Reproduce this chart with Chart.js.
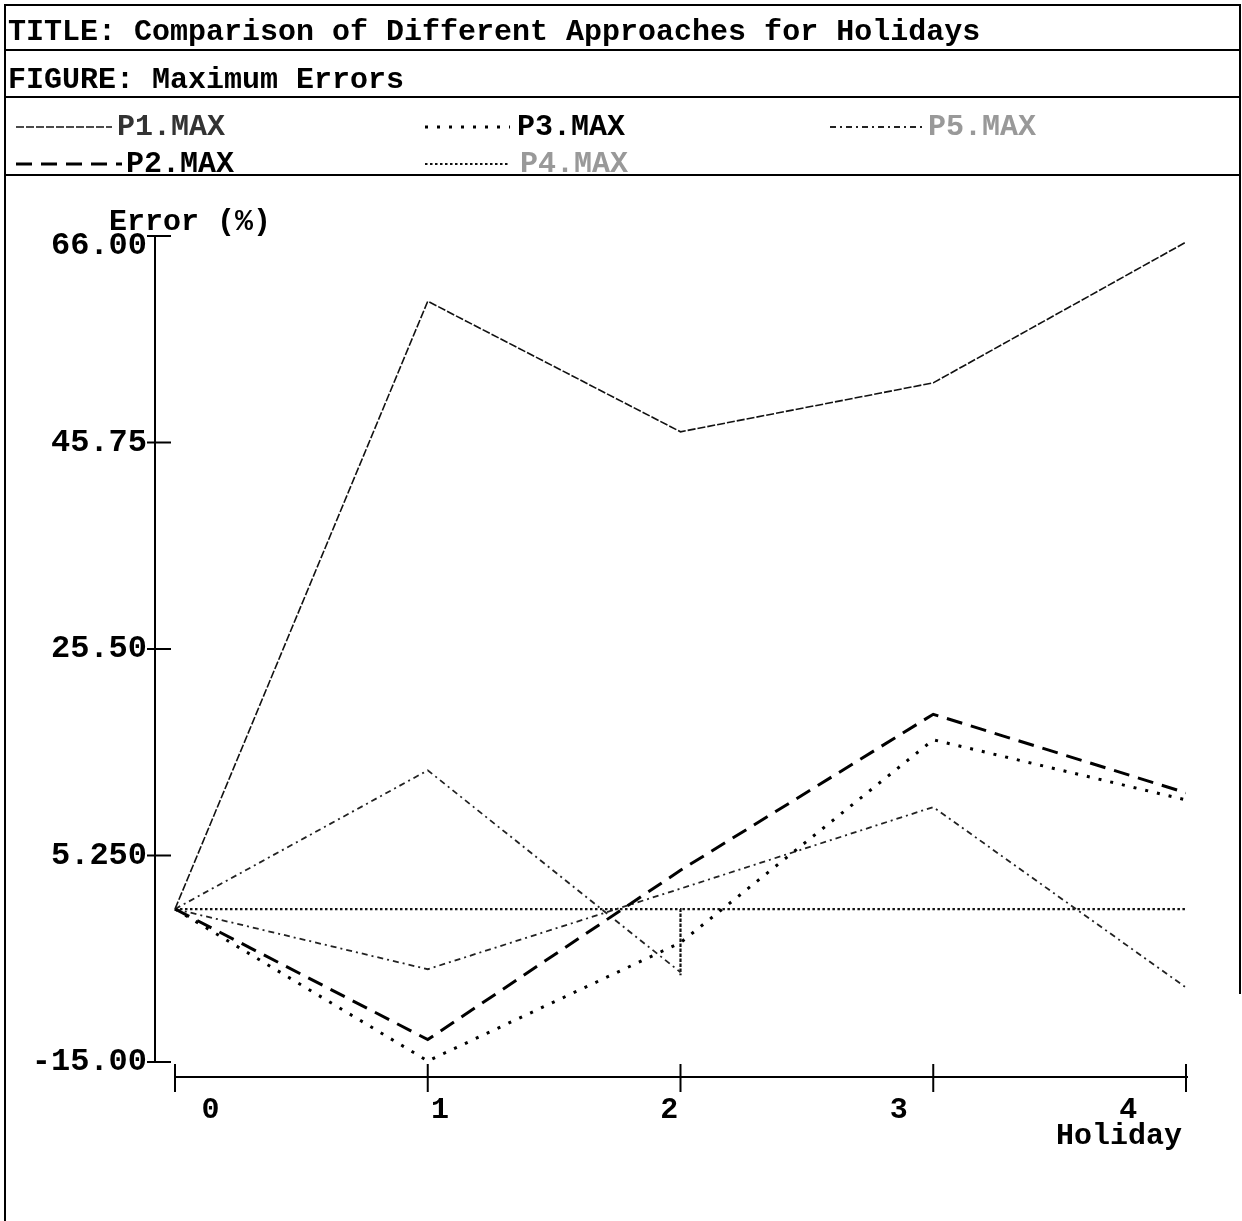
<!DOCTYPE html>
<html>
<head>
<meta charset="utf-8">
<script src="https://cdn.jsdelivr.net/npm/chart.js@4.4.1/dist/chart.umd.min.js"></script>
<style>
  body { margin: 0; background: #fff; }
  #page { position: relative; width: 1242px; height: 1221px; overflow: hidden;
          font-family: "Liberation Mono", "DejaVu Sans Mono", monospace; font-weight: bold; }
  #chart { position: absolute; left: 0; top: 0; }
  .rule { position: absolute; background: #000; }
  .txt { position: absolute; font-size: 30px; line-height: 30px; white-space: pre; color: #000; }
  svg { position: absolute; left: 0; top: 0; }
</style>
</head>
<body>
<div id="page">
  <canvas id="chart" width="1242" height="1221"></canvas>

  <!-- frame and header rows -->
  <div class="rule" style="left:4px;top:4px;width:1237px;height:2px"></div>
  <div class="rule" style="left:4px;top:4px;width:2px;height:1217px"></div>
  <div class="rule" style="left:1239px;top:4px;width:2px;height:990px"></div>
  <div class="rule" style="left:4px;top:49px;width:1237px;height:2px"></div>
  <div class="rule" style="left:4px;top:96px;width:1237px;height:2px"></div>

  <div class="txt" style="left:8px;top:17px">TITLE: Comparison of Different Approaches for Holidays</div>
  <div class="txt" style="left:8px;top:65px">FIGURE: Maximum Errors</div>

  <div id="legend"></div>
  <div class="rule" style="left:4px;top:174px;width:1237px;height:2px"></div>
</div>

<script>
// x values (holiday number)
const holidays = [0, 1, 2, 3, 4];
const xTickLabels = ['0', '1', '2', '3', '4'];

// maximum error (%) for each approach
const p1Max = [0, 59.6, 46.8, 51.6, 65.4];
const p2Max = [0, -12.8, 3.8, 19.1, 11.4];
const p3Max = [0, -14.9, -3.3, 16.6, 10.7];
const p4Max = [0, 13.6, -6.2];
const p5Max = [0, -5.9, 2.0, 10.0, -7.7];

// flat dotted trace at zero with its drop at holiday 2
const baseX = [0, 2, 2, 2, 4];
const baseY = [0, 0, -6.5, 0, 0];

const yTicks = [66, 45.75, 25.5, 5.25, -15];
const yTickLabels = ['66.00', '45.75', '25.50', '5.250', '-15.00'];

const seriesNames = ['P1.MAX', 'P2.MAX', 'P3.MAX', 'P4.MAX', 'P5.MAX'];

const FONT = 'bold 30px "Liberation Mono", "DejaVu Sans Mono", monospace';
const YFONT = 'bold 32px "Liberation Mono", "DejaVu Sans Mono", monospace';

function pts(xs, ys) {
    return ys.map((v, i) => ({ x: xs[i], y: v }));
}

const styles = {
    p1: { color: '#111', width: 1.6, dash: [8, 2] },
    p2: { color: '#000', width: 3, dash: [16, 9] },
    p3: { color: '#000', width: 3, dash: [3, 9] },
    p4: { color: '#222', width: 1.8, dash: [6, 4, 2, 4] },
    p5: { color: '#222', width: 1.8, dash: [6, 4, 2, 4] },
    base: { color: '#111', width: 2.2, dash: [2.5, 2.5] }
};

function ds(label, data, s) {
    return {
        label: label,
        data: data,
        borderColor: s.color,
        borderWidth: s.width,
        borderDash: s.dash,
        pointRadius: 0,
        fill: false,
        tension: 0
    };
}

// legend in the header (svg line samples + text)
(function buildLegend() {
    const items = [
        { name: seriesNames[0], s: styles.p1, x1: 16, x2: 112, tx: 117, cy: 127, col: '#333' },
        { name: seriesNames[2], s: styles.p3, x1: 425, x2: 510, tx: 517, cy: 127, col: '#000' },
        { name: seriesNames[4], s: styles.p5, x1: 830, x2: 925, tx: 928, cy: 127, col: '#999' },
        { name: seriesNames[1], s: styles.p2, x1: 16, x2: 122, tx: 126, cy: 164, col: '#000' },
        { name: seriesNames[3], s: styles.base, x1: 425, x2: 510, tx: 520, cy: 164, col: '#999' }
    ];
    const ns = 'http://www.w3.org/2000/svg';
    const svg = document.createElementNS(ns, 'svg');
    svg.setAttribute('width', 1242);
    svg.setAttribute('height', 180);
    const leg = document.getElementById('legend');
    items.forEach(it => {
        const ln = document.createElementNS(ns, 'line');
        ln.setAttribute('x1', it.x1);
        ln.setAttribute('x2', it.x2);
        ln.setAttribute('y1', it.cy);
        ln.setAttribute('y2', it.cy);
        ln.setAttribute('stroke', it.s.color);
        ln.setAttribute('stroke-width', it.s.width);
        ln.setAttribute('stroke-dasharray', it.s.dash.join(' '));
        svg.appendChild(ln);
        const t = document.createElement('div');
        t.className = 'txt';
        t.style.left = it.tx + 'px';
        t.style.top = (it.cy - 15) + 'px';
        t.style.color = it.col;
        t.textContent = it.name;
        leg.appendChild(t);
    });
    leg.appendChild(svg);
})();

// axes are detached from each other in the original, so draw them by hand from the scales
const axesPlugin = {
    id: 'handAxes',
    afterDraw(chart) {
        const { ctx, chartArea: a, scales: { x, y } } = chart;
        ctx.save();
        ctx.strokeStyle = '#000';
        ctx.fillStyle = '#000';
        ctx.lineWidth = 2;

        // y axis
        const ax = a.left;
        ctx.beginPath();
        ctx.moveTo(ax, y.getPixelForValue(yTicks[0]));
        ctx.lineTo(ax, y.getPixelForValue(yTicks[yTicks.length - 1]));
        ctx.stroke();
        ctx.font = YFONT;
        ctx.textAlign = 'right';
        ctx.textBaseline = 'middle';
        yTicks.forEach((v, i) => {
            const py = y.getPixelForValue(v);
            ctx.beginPath();
            ctx.moveTo(ax - 8, py);
            ctx.lineTo(ax + 16, py);
            ctx.stroke();
            ctx.fillText(yTickLabels[i], ax - 8, py + (i === 0 ? 10 : 0));
        });
        ctx.font = FONT;
        ctx.textAlign = 'left';
        ctx.fillText('Error (%)', ax - 46, y.getPixelForValue(yTicks[0]) - 14);

        // x axis, a little below the plot
        const ay = a.bottom + 15;
        const x0 = x.getPixelForValue(holidays[0]);
        const x1 = x.getPixelForValue(holidays[holidays.length - 1]);
        ctx.beginPath();
        ctx.moveTo(x0, ay);
        ctx.lineTo(x1 + 2, ay);
        ctx.stroke();
        ctx.textAlign = 'center';
        const step = 0.908;
        holidays.forEach((h, i) => {
            const px = x.getPixelForValue(h);
            ctx.beginPath();
            ctx.moveTo(px, ay - 13);
            ctx.lineTo(px, ay + 15);
            ctx.stroke();
            // labels sit on their own, slightly tighter spacing
            const lx = x.getPixelForValue(0.14 + step * i);
            ctx.fillText(xTickLabels[i], lx, ay + 33);
        });
        ctx.textAlign = 'right';
        ctx.fillText('Holiday', x1 - 4, ay + 59);
        ctx.restore();
    }
};

new Chart(document.getElementById('chart'), {
    type: 'line',
    data: {
        datasets: [
            ds(seriesNames[0], pts(holidays, p1Max), styles.p1),
            ds(seriesNames[1], pts(holidays, p2Max), styles.p2),
            ds(seriesNames[2], pts(holidays, p3Max), styles.p3),
            ds(seriesNames[3], pts(holidays, p4Max), styles.p4),
            ds(seriesNames[4], pts(holidays, p5Max), styles.p5),
            ds('zero', pts(baseX, baseY), styles.base)
        ]
    },
    options: {
        responsive: false,
        animation: false,
        layout: { padding: { left: 155, top: 236, right: 56, bottom: 159 } },
        scales: {
            x: { type: 'linear', min: -0.0791, max: 4, display: false },
            y: { type: 'linear', min: -15, max: 66, display: false }
        },
        plugins: {
            legend: { display: false },
            tooltip: { enabled: false }
        }
    },
    plugins: [axesPlugin]
});
</script>
</body>
</html>
